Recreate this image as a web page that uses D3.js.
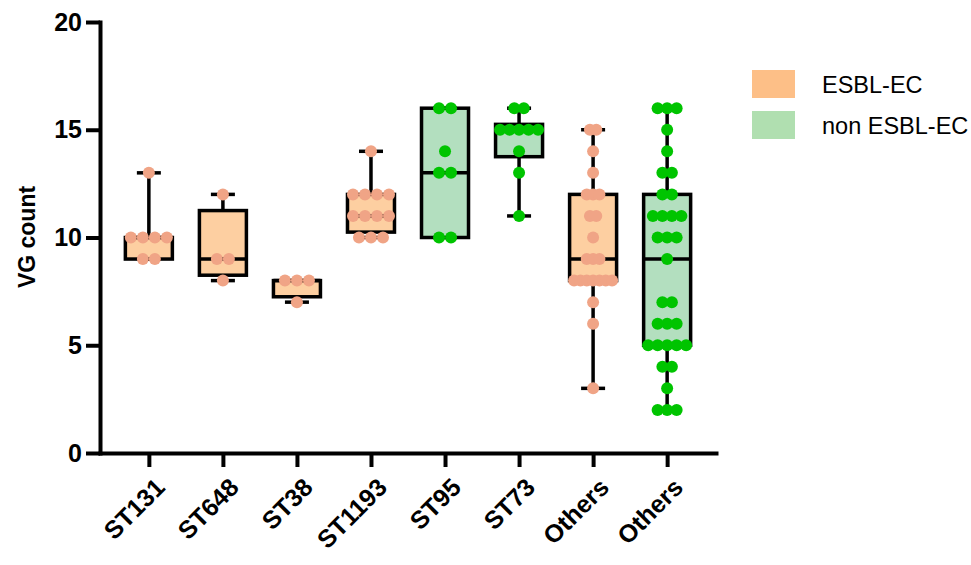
<!DOCTYPE html>
<html>
<head>
<meta charset="utf-8">
<script src="https://cdn.jsdelivr.net/npm/d3@7"></script>
<style>
  body { margin: 0; background: #fff; }
  text { font-family: "Liberation Sans", Arial, sans-serif; }
</style>
</head>
<body>
<svg id="chart" width="971" height="565"></svg>
<script>
// categories along the x axis, and which group each one belongs to
const categories = ["ST131", "ST648", "ST38", "ST1193", "ST95", "ST73", "Others", "Others"];
const groupOf = ["esbl", "esbl", "esbl", "esbl", "non", "non", "esbl", "non"];

// VG count per isolate
const st131 = [13, 10, 10, 10, 10, 9, 9];
const st648 = [12, 9, 9, 8];
const st38 = [8, 8, 8, 7];
const st1193 = [14, 12, 12, 12, 12, 11, 11, 11, 11, 10, 10, 10];
const st95 = [16, 16, 14, 13, 13, 10, 10];
const st73 = [16, 16, 15, 15, 15, 15, 15, 14, 13, 11];
const othersEsbl = [15, 15, 14, 13, 12, 12, 12, 11, 11, 10, 9, 9, 9, 8, 8, 8, 8, 8, 8, 8, 7, 6, 3];
const othersNon = [16, 16, 16, 15, 14, 13, 13, 12, 12, 11, 11, 11, 11, 10, 10, 10, 9,
  7, 7, 6, 6, 6, 5, 5, 5, 5, 5, 4, 4, 3, 2, 2, 2];
const values = [st131, st648, st38, st1193, st95, st73, othersEsbl, othersNon];

const yTicks = [0, 5, 10, 15, 20];
const legendKeys = ["esbl", "non"];
const legendLabels = ["ESBL-EC", "non ESBL-EC"];

const boxFill = { esbl: "#fdcfa1", non: "#b3dfbf" };
const dotFill = { esbl: "#f0a486", non: "#00c400" };
const legendFill = { esbl: "#fdbf87", non: "#b0dfb0" };

const svg = d3.select("#chart");

const y = d3.scaleLinear().domain([0, 20]).range([453, 22]);
const x = d3.scalePoint().domain(d3.range(categories.length)).range([100, 716]).padding(0.66);

// Prism-style quartiles: position (n+1)p, linear between ranks
function quant(sorted, p) {
  const n = sorted.length;
  let pos = (n + 1) * p;
  pos = Math.max(1, Math.min(n, pos));
  const lo = Math.floor(pos), hi = Math.ceil(pos);
  return sorted[lo - 1] + (pos - lo) * (sorted[hi - 1] - sorted[lo - 1]);
}

const boxW = 47, capW = 24, r = 6;

values.forEach((vals, i) => {
  const s = vals.slice().sort(d3.ascending);
  const q1 = quant(s, 0.25), med = quant(s, 0.5), q3 = quant(s, 0.75);
  const cx = x(i);
  const g = svg.append("g");
  const line = (x1, y1, x2, y2) => g.append("line")
    .attr("x1", x1).attr("y1", y1).attr("x2", x2).attr("y2", y2)
    .attr("stroke", "#000").attr("stroke-width", 3.5);

  // whiskers min..max
  line(cx, y(s[0]), cx, y(q1));
  line(cx, y(q3), cx, y(s[s.length - 1]));
  line(cx - capW / 2, y(s[0]), cx + capW / 2, y(s[0]));
  line(cx - capW / 2, y(s[s.length - 1]), cx + capW / 2, y(s[s.length - 1]));

  g.append("rect")
    .attr("x", cx - boxW / 2).attr("y", y(q3))
    .attr("width", boxW).attr("height", y(q1) - y(q3))
    .attr("fill", boxFill[groupOf[i]])
    .attr("stroke", "#000").attr("stroke-width", 3.5);
  line(cx - boxW / 2, y(med), cx + boxW / 2, y(med));

  // scatter: rows of equal values, spread sideways
  const rows = d3.rollups(s, v => v.length, d => d);
  const maxCount = d3.max(rows, d => d[1]);
  const step = maxCount > 1 ? Math.min(12, 38 / (maxCount - 1)) : 12;
  rows.forEach(([v, c]) => {
    for (let j = 0; j < c; j++) {
      g.append("circle")
        .attr("cx", cx + (j - (c - 1) / 2) * step)
        .attr("cy", y(v))
        .attr("r", r)
        .attr("fill", dotFill[groupOf[i]]);
    }
  });
});

// axes
const yAxis = svg.append("g")
  .attr("transform", "translate(100,0)")
  .call(d3.axisLeft(y).tickValues(yTicks).tickSize(14).tickSizeOuter(0).tickPadding(4));

const xAxis = svg.append("g")
  .attr("transform", "translate(0,453)")
  .call(d3.axisBottom(x).tickSize(14).tickSizeOuter(0).tickFormat(i => categories[i]));

[yAxis, xAxis].forEach(a => {
  a.select(".domain").attr("stroke-width", 4).attr("stroke-linecap", "square");
  a.selectAll(".tick line").attr("stroke-width", 4);
});

yAxis.selectAll(".tick text")
  .attr("font-size", 25).attr("font-weight", "bold")
  .attr("font-family", "Liberation Sans, Arial, sans-serif").attr("fill", "#000");

xAxis.selectAll(".tick text")
  .attr("font-size", 25).attr("font-weight", "bold")
  .attr("font-family", "Liberation Sans, Arial, sans-serif").attr("fill", "#000")
  .attr("text-anchor", "end")
  .attr("dy", null).attr("y", 0)
  .attr("transform", "translate(17,36) rotate(-45)");

svg.append("text")
  .attr("transform", "translate(35,237) rotate(-90)")
  .attr("text-anchor", "middle")
  .attr("font-size", 23).attr("font-weight", "bold")
  .text("VG count");

// legend
const legend = svg.append("g").attr("transform", "translate(752,70)");
legendKeys.forEach((k, i) => {
  legend.append("rect")
    .attr("x", 0).attr("y", i * 41)
    .attr("width", 43).attr("height", 28)
    .attr("fill", legendFill[k]);
  legend.append("text")
    .attr("x", 70).attr("y", i * 41 + 15)
    .attr("dy", "0.35em")
    .attr("font-size", 23.5)
    .text(legendLabels[i]);
});
</script>
</body>
</html>
